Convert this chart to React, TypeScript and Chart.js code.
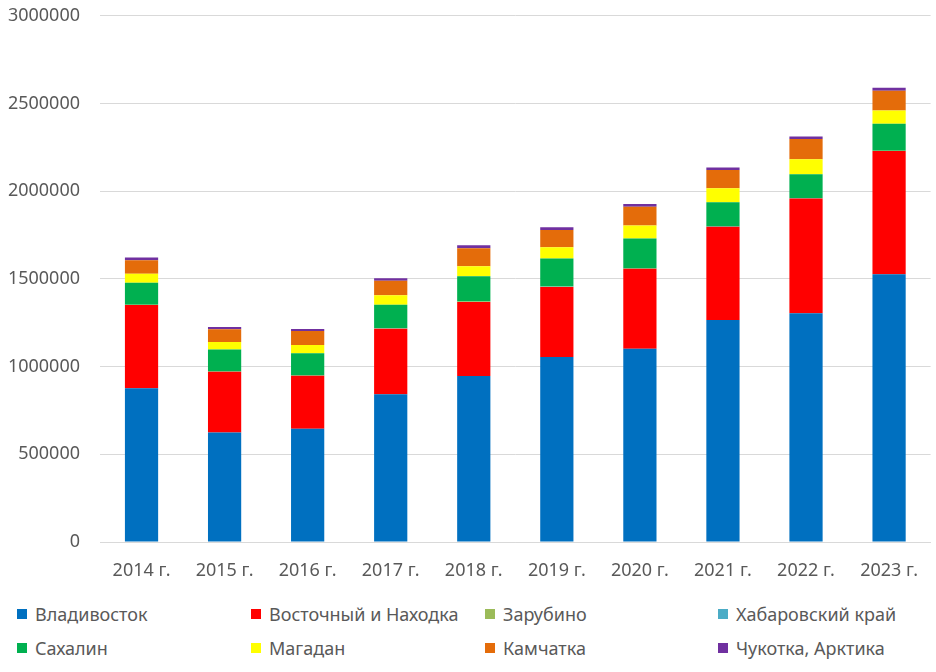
import React, { useEffect, useRef } from "react";
import { Chart, registerables } from "chart.js";

Chart.register(...registerables);

const categories = ["2014 г.", "2015 г.", "2016 г.", "2017 г.", "2018 г.", "2019 г.", "2020 г.", "2021 г.", "2022 г.", "2023 г."];

const vladivostok = [876000, 625000, 645000, 843000, 947000, 1055000, 1102000, 1266000, 1304000, 1526000];
const vostochny = [475000, 346000, 303000, 373000, 422000, 399000, 456000, 531000, 654000, 703000];
const zarubino = [1500, 1000, 1000, 1500, 1500, 1500, 1500, 1000, 1000, 1000];
const khabarovsk = [500, 500, 500, 500, 500, 500, 500, 500, 500, 500];
const sakhalin = [125000, 125000, 127000, 134000, 144000, 160000, 170000, 138000, 137000, 154000];
const magadan = [51000, 43000, 47000, 55000, 57000, 64000, 74000, 80000, 85000, 76000];
const kamchatka = [78000, 72000, 80000, 82000, 103000, 99000, 108000, 104000, 116000, 112000];
const chukotka = [15000, 13000, 11000, 15000, 17000, 15000, 15000, 15000, 15000, 17000];

const seriesNames = ["Владивосток", "Восточный и Находка", "Зарубино", "Хабаровский край", "Сахалин", "Магадан", "Камчатка", "Чукотка, Арктика"];
const seriesValues = [vladivostok, vostochny, zarubino, khabarovsk, sakhalin, magadan, kamchatka, chukotka];
const seriesColors = ["#0070C0", "#FF0000", "#9BBB59", "#4BACC6", "#00B050", "#FFFF00", "#E46C0A", "#7030A0"];

const FONT = "'Noto Sans', 'Open Sans', sans-serif";
const TEXT = "#595959";

export default function App() {
  const ref = useRef<HTMLCanvasElement | null>(null);

  useEffect(() => {
    if (!ref.current) return;
    const chart = new Chart(ref.current, {
      type: "bar",
      data: {
        labels: categories,
        datasets: seriesNames.map((name, i) => ({
          label: name,
          data: seriesValues[i],
          backgroundColor: seriesColors[i],
          borderWidth: 0,
          categoryPercentage: 0.8,
          barPercentage: 0.5,
        })),
      },
      options: {
        responsive: true,
        maintainAspectRatio: false,
        animation: false,
        layout: { padding: { top: 2, right: 0, left: 0, bottom: 0 } },
        plugins: {
          legend: { display: false },
          tooltip: { enabled: false },
        },
        scales: {
          x: {
            stacked: true,
            grid: { display: false, drawTicks: false },
            border: { display: true, color: "#d9d9d9", width: 1 },
            ticks: { color: TEXT, font: { family: FONT, size: 18 }, padding: 18, maxRotation: 0 },
            afterFit: (s: any) => { s.height = 58; },
          },
          y: {
            stacked: true,
            min: 0,
            max: 3000000,
            grid: { color: "#d9d9d9", drawTicks: false },
            border: { display: false },
            ticks: {
              stepSize: 500000,
              color: TEXT,
              font: { family: FONT, size: 18 },
              padding: 20,
              callback: (v: any) => String(v),
            },
            afterFit: (s: any) => { s.width = 100; },
          },
        },
      },
    });
    return () => chart.destroy();
  }, []);

  const colX = [17, 251, 485, 718];
  const rowY = [614, 648];

  return (
    <div style={{ position: "absolute", left: 0, top: 0, width: 936, height: 672, background: "#fff", fontFamily: FONT, overflow: "hidden" }}>
      <div style={{ position: "absolute", left: 0, top: -15, width: 936, height: 615 }}>
        <canvas ref={ref} />
      </div>
      {seriesNames.map((name, i) => {
        const col = i % 4;
        const row = Math.floor(i / 4);
        return (
          <div
            key={name}
            style={{
              position: "absolute",
              left: colX[col],
              top: rowY[row] - 12,
              height: 24,
              display: "flex",
              alignItems: "center",
              whiteSpace: "nowrap",
              fontSize: 18,
              color: TEXT,
            }}
          >
            <span style={{ display: "inline-block", width: 10, height: 10, background: seriesColors[i], marginRight: 8 }} />
            <span>{name}</span>
          </div>
        );
      })}
    </div>
  );
}
